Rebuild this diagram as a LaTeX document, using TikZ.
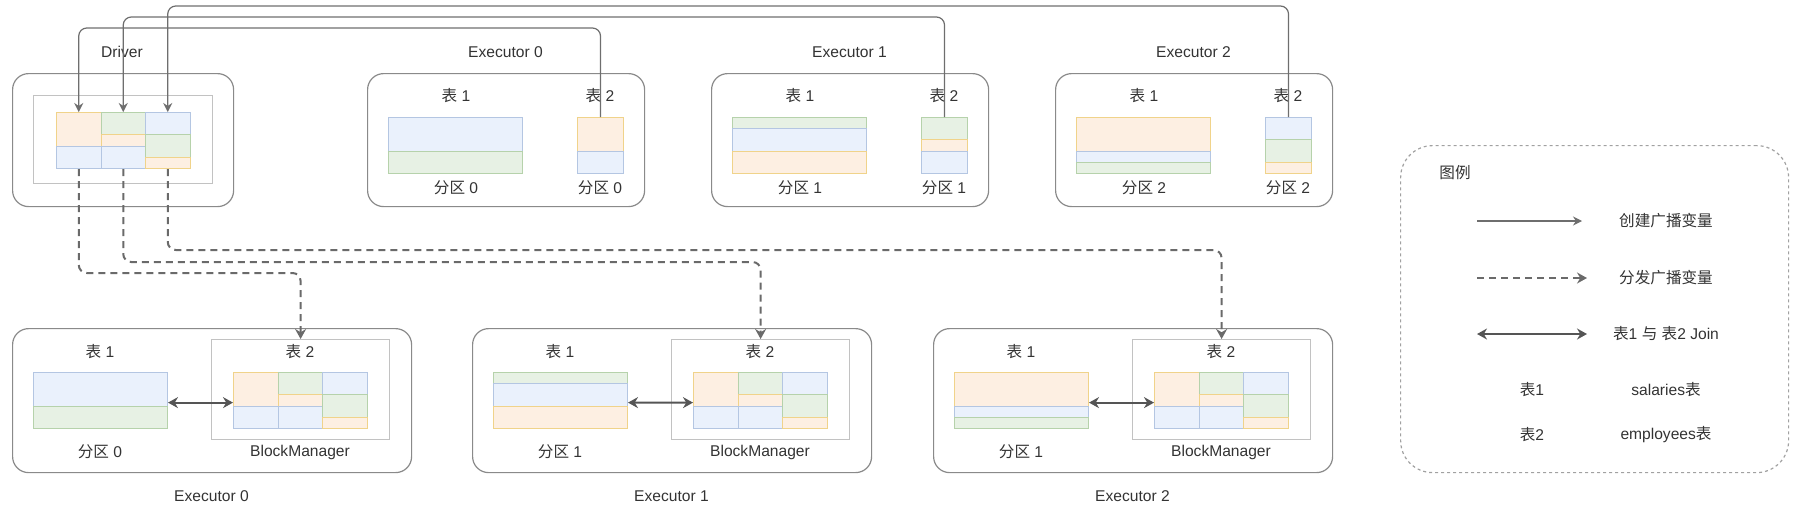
\documentclass[tikz,border=0pt]{standalone}
\usepackage{fontspec}
\setmainfont{Liberation Sans}
\newfontfamily\cjkfont{Noto Sans CJK SC}
\usetikzlibrary{arrows.meta}

\newcommand{\zh}[1]{{\cjkfont #1}}

\definecolor{fillb}{HTML}{EAF1FC}
\definecolor{lineb}{HTML}{B4C6E2}
\definecolor{fillg}{HTML}{E7F1E4}
\definecolor{lineg}{HTML}{B6D2AB}
\definecolor{fillo}{HTML}{FDEFE2}
\definecolor{lineo}{HTML}{F0D38A}
\definecolor{boxgray}{HTML}{8A8A8A}
\definecolor{innergray}{HTML}{C2C2C2}
\definecolor{linegray}{HTML}{6E6E6E}
\definecolor{dashgray}{HTML}{6A6A6A}
\definecolor{joingray}{HTML}{555555}
\definecolor{textgray}{HTML}{333333}

% one column of partitions: name, x, y, width, colour/from/to (in units of 11.2)
\newcommand{\partstack}[5]{%
  \foreach \clr/\ya/\yb [count=\i] in {#5}
    \node [cell, fill=fill\clr, draw=line\clr, minimum width=#4*0.5pt,
      minimum height=(\yb-\ya)*5.6pt] (#1-\i) at (#2,#3+\ya*11.2) {};
}
% the broadcast table: three columns
\newcommand{\blockgrid}[3]{%
  \partstack{#1a}{#2}{#3}{44.5}{o/0/3,b/3/5}
  \partstack{#1b}{#2+44.5}{#3}{44.5}{g/0/2,o/2/3,b/3/5}
  \partstack{#1c}{#2+89}{#3}{44.5}{b/0/2,g/2/4,o/4/5}
}

\begin{document}
\begin{tikzpicture}[
  x=0.5pt, y=-0.5pt,
  txt/.style={font=\fontsize{7.8}{9}\selectfont, text=textgray, inner sep=0pt},
  exec_box/.style={rectangle, draw=boxgray, line width=0.6pt, rounded corners=8pt,
    anchor=north west, inner sep=0pt},
  top_exec/.style={exec_box, minimum width=138.5pt, minimum height=66.5pt},
  bottom_exec/.style={exec_box, minimum width=199.5pt, minimum height=72pt},
  bm_box/.style={rectangle, draw=innergray, line width=0.6pt, anchor=north west,
    inner sep=0pt, minimum width=89pt, minimum height=50pt},
  cell/.style={rectangle, anchor=north west, inner sep=0pt, line width=0.5pt},
  create_line/.style={draw=linegray, line width=0.6pt, rounded corners=4pt,
    -{Stealth[length=4.5pt,width=4.5pt]}},
  send_line/.style={draw=dashgray, line width=1pt, dash pattern=on 3.5pt off 2.5pt,
    rounded corners=4pt, -{Stealth[length=5pt,width=5.5pt]}},
  join_line/.style={draw=joingray, line width=1pt,
    {Stealth[length=5pt,width=5.5pt]}-{Stealth[length=5pt,width=5.5pt]}}
  ]
\useasboundingbox (0,0) rectangle (1797,516);

% Driver
\node [exec_box, minimum width=110.5pt, minimum height=66.5pt] (driver) at (12,73) {};
\node [bm_box, minimum width=89.5pt, minimum height=44pt] (driver_bm) at (33,95) {};
\node [txt] (driver_name) at (122,52) {Driver};
\blockgrid{dg}{56}{112}

% Executors, top row
\node [top_exec] (te0) at (367,73) {};
\node [txt] (te0_name) at (505.5,52) {Executor 0};
\node [txt] (te0_t1) at (456,96) {\zh{表} 1};
\node [txt] (te0_t2) at (600,96) {\zh{表} 2};
\node [txt] (te0_p1) at (456,188) {\zh{分区} 0};
\node [txt] (te0_p2) at (600,188) {\zh{分区} 0};
\partstack{te0a}{388}{117}{134}{b/0/3,g/3/5}
\partstack{te0b}{577}{117}{46}{o/0/3,b/3/5}

\node [top_exec] (te1) at (711,73) {};
\node [txt] (te1_name) at (849.5,52) {Executor 1};
\node [txt] (te1_t1) at (800,96) {\zh{表} 1};
\node [txt] (te1_t2) at (944,96) {\zh{表} 2};
\node [txt] (te1_p1) at (800,188) {\zh{分区} 1};
\node [txt] (te1_p2) at (944,188) {\zh{分区} 1};
\partstack{te1a}{732}{117}{134}{g/0/1,b/1/3,o/3/5}
\partstack{te1b}{921}{117}{46}{g/0/2,o/2/3,b/3/5}

\node [top_exec] (te2) at (1055,73) {};
\node [txt] (te2_name) at (1193.5,52) {Executor 2};
\node [txt] (te2_t1) at (1144,96) {\zh{表} 1};
\node [txt] (te2_t2) at (1288,96) {\zh{表} 2};
\node [txt] (te2_p1) at (1144,188) {\zh{分区} 2};
\node [txt] (te2_p2) at (1288,188) {\zh{分区} 2};
\partstack{te2a}{1076}{117}{134}{o/0/3,b/3/4,g/4/5}
\partstack{te2b}{1265}{117}{46}{b/0/2,g/2/4,o/4/5}

% Executors, bottom row
\node [bottom_exec] (be0) at (12,328) {};
\node [bm_box] (bm0) at (211,339) {};
\node [txt] (be0_name) at (211.5,496) {Executor 0};
\node [txt] (be0_t1) at (100,352) {\zh{表} 1};
\node [txt] (be0_t2) at (300,352) {\zh{表} 2};
\node [txt] (be0_p1) at (100,452) {\zh{分区} 0};
\node [txt] (be0_bm) at (300,452) {BlockManager};
\partstack{be0a}{33}{372}{134}{b/0/3,g/3/5}
\blockgrid{bg0}{233}{372}

\node [bottom_exec] (be1) at (472,328) {};
\node [bm_box] (bm1) at (671,339) {};
\node [txt] (be1_name) at (671.5,496) {Executor 1};
\node [txt] (be1_t1) at (560,352) {\zh{表} 1};
\node [txt] (be1_t2) at (760,352) {\zh{表} 2};
\node [txt] (be1_p1) at (560,452) {\zh{分区} 1};
\node [txt] (be1_bm) at (760,452) {BlockManager};
\partstack{be1a}{493}{372}{134}{g/0/1,b/1/3,o/3/5}
\blockgrid{bg1}{693}{372}

\node [bottom_exec] (be2) at (933,328) {};
\node [bm_box] (bm2) at (1132,339) {};
\node [txt] (be2_name) at (1132.5,496) {Executor 2};
\node [txt] (be2_t1) at (1021,352) {\zh{表} 1};
\node [txt] (be2_t2) at (1221,352) {\zh{表} 2};
\node [txt] (be2_p1) at (1021,452) {\zh{分区} 1};
\node [txt] (be2_bm) at (1221,452) {BlockManager};
\partstack{be2a}{954}{372}{134}{o/0/3,b/3/4,g/4/5}
\blockgrid{bg2}{1154}{372}

% create broadcast variable
\coordinate (s1) at (0,28);
\coordinate (s2) at (0,17);
\coordinate (s3) at (0,6);
\draw [create_line] (te0b-1.north) -- (te0b-1.north |- s1) -| (dga-1.north);
\draw [create_line] (te1b-1.north) -- (te1b-1.north |- s2) -| (dgb-1.north);
\draw [create_line] (te2b-1.north) -- (te2b-1.north |- s3) -| (dgc-1.north);

% send broadcast variable
\coordinate (d1) at (0,273);
\coordinate (d2) at (0,262);
\coordinate (d3) at (0,250);
\draw [send_line] (dga-2.south) -- (dga-2.south |- d1) -| (bm0.north);
\draw [send_line] (dgb-3.south) -- (dgb-3.south |- d2) -| (bm1.north);
\draw [send_line] (dgc-3.south) -- (dgc-3.south |- d3) -| (bm2.north);

% join
\draw [join_line] ([yshift=2pt]be0a-1.south east) -- ([yshift=2pt]bg0a-1.south west);
\draw [join_line] ([yshift=2pt]be1a-2.south east) -- ([yshift=2pt]bg1a-1.south west);
\draw [join_line] ([yshift=2pt]be2a-1.south east) -- ([yshift=2pt]bg2a-1.south west);

% legend
\node [rectangle, draw=boxgray!80, line width=0.6pt, dash pattern=on 1.5pt off 1.5pt,
  rounded corners=16pt, anchor=north west, minimum width=194pt, minimum height=163.5pt]
  (legend) at (1400,145) {};
\node [txt] (lg_title) at (1455,173) {\zh{图例}};
\coordinate (lg1a) at (1477,221);
\coordinate (lg1b) at (1582,221);
\coordinate (lg2a) at (1477,278);
\coordinate (lg2b) at (1587,278);
\coordinate (lg3a) at (1477,334);
\coordinate (lg3b) at (1587,334);
\draw [create_line] (lg1a) -- (lg1b);
\draw [send_line] (lg2a) -- (lg2b);
\draw [join_line] (lg3a) -- (lg3b);
\node [txt] (lg1_text) at (1666,221) {\zh{创建广播变量}};
\node [txt] (lg2_text) at (1666,278) {\zh{分发广播变量}};
\node [txt] (lg3_text) at (1666,334) {\zh{表}1 \zh{与} \zh{表}2 Join};
\node [txt] (lg4_key) at (1532,390) {\zh{表}1};
\node [txt] (lg4_text) at (1666,390) {salaries\zh{表}};
\node [txt] (lg5_key) at (1532,435) {\zh{表}2};
\node [txt] (lg5_text) at (1666,435) {employees\zh{表}};

\end{tikzpicture}
\end{document}
